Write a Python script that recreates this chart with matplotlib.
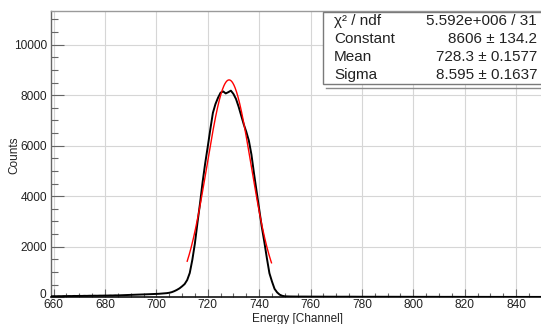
import matplotlib
matplotlib.use('Agg')
import matplotlib.pyplot as plt
import numpy as np
from matplotlib.ticker import MultipleLocator
from matplotlib.patches import Rectangle
from matplotlib.lines import Line2D
from matplotlib.transforms import ScaledTranslation

plt.rcParams['font.family'] = ['Liberation Sans', 'DejaVu Sans']

# ---- data ----
channels = list(range(659, 851))
counts_left = [35, 40, 38, 42, 40, 45, 43, 47, 45, 50, 48,
               52, 50, 55, 53, 58, 56, 60, 58, 63, 62,
               66, 65, 70, 68, 74, 72, 78, 80, 85, 88,
               92, 95, 100, 102, 108, 110, 115, 118, 122, 125,
               130, 135, 142, 150, 160, 175]
counts_peak = [200, 240, 290, 350, 430, 520, 680, 960, 1480, 2130,
               2950, 3720, 4560, 5300, 5960, 6650, 7300, 7650, 7900, 8100,
               8150, 8070, 8120, 8180, 8050, 7850, 7550, 7200, 6850, 6550,
               6200, 5650, 4900, 4200, 3500, 2800, 2200, 1550, 950, 620,
               330, 190, 100, 55, 35]
counts_right = [30, 28, 26, 25, 24, 25, 23, 24, 22, 23,
                22, 21, 22, 20, 21, 22, 20, 19, 21, 20,
                20, 19, 20, 18, 19, 20, 18, 19, 18, 17,
                18, 19, 17, 18, 17, 18, 16, 17, 18, 16,
                17, 16, 17, 15, 16, 17, 15, 16, 15, 16,
                15, 16, 14, 15, 16, 14, 15, 14, 15, 14,
                15, 13, 14, 15, 13, 14, 13, 14, 13, 14,
                12, 13, 14, 12, 13, 12, 13, 12, 13, 12,
                12, 11, 12, 13, 11, 12, 11, 12, 11, 12,
                11, 10, 11, 12, 10, 11, 10, 11, 10, 11]
counts = counts_left + counts_peak + counts_right

fit_constant = 8606.0
fit_mean = 728.3
fit_sigma = 8.595
fit_range = (712.0, 744.8)

stats_labels = ['χ² / ndf', 'Constant', 'Mean', 'Sigma']
stats_values = ['5.592e+006 / 31', '8606 ± 134.2', '728.3 ± 0.1577', '8.595 ± 0.1637']
x_label = 'Energy [Channel]'
y_label = 'Counts'

# ---- figure ----
W, H = 541, 324
fig = plt.figure(figsize=(W / 100, H / 100), dpi=100)


def fx(px):
    return px / W


def fy(py):
    return 1 - py / H


ax_left, ax_right, ax_top, ax_bottom = 51, 541.8, 11, 297.2
ax = fig.add_axes([fx(ax_left), fy(ax_bottom), (ax_right - ax_left) / W, (ax_bottom - ax_top) / H])

ax.plot(channels, counts, color='black', lw=1.4, zorder=3)

xf = np.linspace(fit_range[0], fit_range[1], 300)
yf = fit_constant * np.exp(-0.5 * ((xf - fit_mean) / fit_sigma) ** 2)
ax.plot(xf, yf, color='#ff0000', lw=1.0, zorder=4)

ax.set_xlim(659, 850)
ax.set_ylim(0, 11335)

ax.xaxis.set_major_locator(MultipleLocator(20))
ax.xaxis.set_minor_locator(MultipleLocator(5))
ax.yaxis.set_major_locator(MultipleLocator(2000))
ax.yaxis.set_minor_locator(MultipleLocator(500))

ax.grid(True, which='major', color='#d6d6d6', lw=0.8)
ax.set_axisbelow(True)

ax.spines['right'].set_visible(False)
ax.spines['top'].set_color('#9a9a9a')
ax.spines['top'].set_linewidth(1.0)
ax.spines['left'].set_color('#666666')
ax.spines['left'].set_linewidth(1.0)
ax.spines['bottom'].set_color('#111111')
ax.spines['bottom'].set_linewidth(1.2)

ax.tick_params(axis='y', which='major', direction='in', length=9.4, width=0.8,
               color='#666666', labelsize=8.6, labelcolor='#222222', pad=3)
ax.tick_params(axis='y', which='minor', direction='in', length=5, width=0.8, color='#666666')
ax.tick_params(axis='x', which='major', direction='in', length=5.8, width=0.8,
               color='#666666', labelsize=8.6, labelcolor='#222222', pad=1.5)
ax.tick_params(axis='x', which='minor', direction='in', length=3, width=0.8, color='#666666')

# nudge the "0" y label up a little, as in the reference corner
fig.canvas.draw()
for lbl in ax.yaxis.get_majorticklabels():
    if lbl.get_text() == '0':
        lbl.set_transform(lbl.get_transform() + ScaledTranslation(-1 / 100, 4 / 100, fig.dpi_scale_trans))

fig.text(fx(14), fy(155), y_label, rotation=90, ha='center', va='center',
         fontsize=8.5, color='#222222')
fig.text(fx(298), fy(319), x_label, ha='center', va='center',
         fontsize=8.5, color='#222222')

# stats box
box_l, box_r, box_t, box_b = 323.3, 546, 12, 84
fig.add_artist(Line2D([fx(326), fx(546)], [fy(87.5), fy(87.5)], color='#8a8a8a', lw=1.0,
                      transform=fig.transFigure, zorder=5))
fig.add_artist(Rectangle((fx(box_l), fy(box_b)), (box_r - box_l) / W, (box_b - box_t) / H,
                         transform=fig.transFigure, facecolor='white', edgecolor='#7a7a7a',
                         lw=1.0, zorder=6))
rows_y = [21, 39, 57, 75]
for lab, val, ry in zip(stats_labels, stats_values, rows_y):
    fig.text(fx(334), fy(ry), lab, ha='left', va='center', fontsize=11,
             color='#222222', zorder=7)
    fig.text(fx(537), fy(ry), val, ha='right', va='center', fontsize=11,
             color='#222222', zorder=7)

fig.savefig('out.png', dpi=100)
